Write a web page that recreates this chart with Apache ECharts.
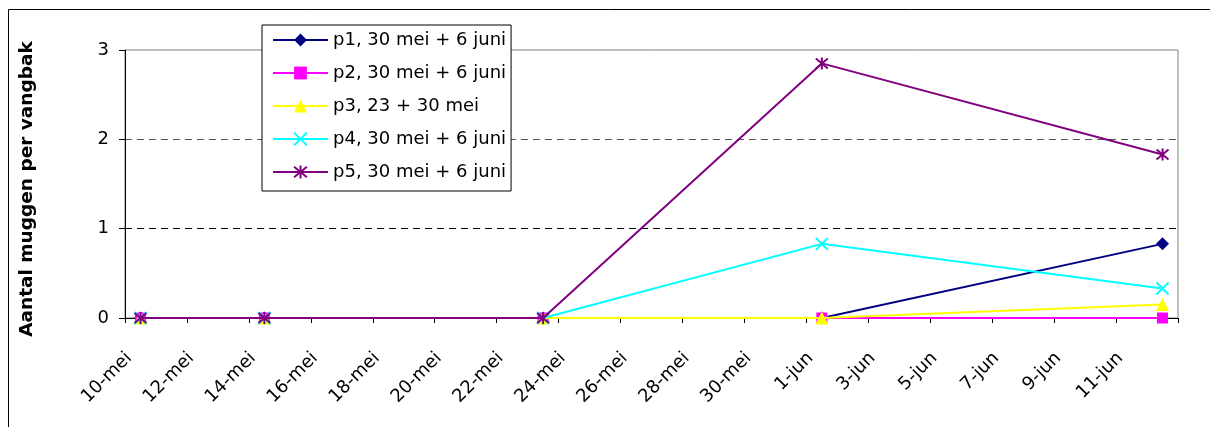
<!DOCTYPE html>
<html>
<head>
<meta charset="utf-8">
<script src="https://cdn.jsdelivr.net/npm/echarts@6/dist/echarts.min.js"></script>
<style>
html,body{margin:0;padding:0;background:#fff;}
#chart{width:1210px;height:427px;}
</style>
</head>
<body>
<div id="chart"></div>
<script>
// Category days on the x axis (one band per day)
const categories = [
  '10-mei','11-mei','12-mei','13-mei','14-mei','15-mei','16-mei','17-mei','18-mei','19-mei',
  '20-mei','21-mei','22-mei','23-mei','24-mei','25-mei','26-mei','27-mei','28-mei','29-mei',
  '30-mei','31-mei','1-jun','2-jun','3-jun','4-jun','5-jun','6-jun','7-jun','8-jun',
  '9-jun','10-jun','11-jun','12-jun'
];
// Sampling dates
const sampleDates = ['10-mei','14-mei','23-mei','1-jun','12-jun'];
// Series values (Aantal muggen per vangbak)
const p1 = [0, 0, 0, 0, 0.83];
const p2 = [0, 0, 0, 0, 0];
const p3 = [0, 0, 0, 0, 0.15];
const p4 = [0, 0, 0, 0.83, 0.33];
const p5 = [0, 0, 0, 2.85, 1.83];
const seriesNames = [
  'p1, 30 mei + 6 juni',
  'p2, 30 mei + 6 juni',
  'p3, 23 + 30 mei',
  'p4, 30 mei + 6 juni',
  'p5, 30 mei + 6 juni'
];
const yTicks = [0, 1, 2, 3];

const FONT = 'DejaVu Sans';
const pair = vals => sampleDates.map((d, i) => [d, vals[i]]);

const crossPath = 'path://M0,0L10,10M10,0L0,10';
const starPath = 'path://M0,0L10,10M10,0L0,10M5,-1L5,11';

const styles = [
  {color: '#000080', symbol: 'diamond', size: 13},
  {color: '#FF00FF', symbol: 'rect', size: 11},
  {color: '#FFFF00', symbol: 'triangle', size: 13},
  {color: '#00FFFF', symbol: crossPath, size: 12, stroke: true},
  {color: '#800080', symbol: starPath, size: 12, stroke: true}
];
const values = [p1, p2, p3, p4, p5];

const chart = echarts.init(document.getElementById('chart'), null, {renderer: 'canvas'});
chart.setOption({
  animation: false,
  backgroundColor: '#fff',
  textStyle: {fontFamily: FONT},
  graphic: [{
    type: 'rect',
    shape: {x: 8.5, y: 9.5, width: 1500, height: 700},
    style: {fill: 'none', stroke: '#000', lineWidth: 1},
    silent: true, z: -10
  }],
  grid: {
    left: 125, right: 32, top: 50, bottom: 109,
    show: true, borderColor: '#808080', borderWidth: 1, backgroundColor: 'transparent'
  },
  legend: {
    orient: 'vertical',
    left: 262, top: 25,
    padding: [6, 5, 10, 10],
    itemGap: 15,
    itemWidth: 55,
    itemHeight: 16,
    borderColor: '#000',
    borderWidth: 1,
    backgroundColor: '#fff',
    textStyle: {fontFamily: FONT, fontSize: 18, color: '#000', lineHeight: 18},
    data: seriesNames
  },
  xAxis: {
    type: 'category',
    data: categories,
    boundaryGap: true,
    axisLine: {lineStyle: {color: '#000', width: 1}},
    axisTick: {show: true, interval: 1, length: 5, lineStyle: {color: '#000'}},
    axisLabel: {
      interval: 1, rotate: 45, margin: 26,
      fontFamily: FONT, fontSize: 18, color: '#000',
      padding: [0, 16, 0, 0]
    },
    splitLine: {show: false}
  },
  yAxis: {
    type: 'value',
    min: yTicks[0], max: yTicks[yTicks.length - 1], interval: 1,
    name: 'Aantal muggen per vangbak',
    nameLocation: 'middle',
    nameGap: 88,
    nameTextStyle: {fontFamily: FONT, fontSize: 18.5, fontWeight: 'bold', color: '#000', padding: [0, 10, 0, 0]},
    axisLine: {show: true, lineStyle: {color: '#000', width: 1}},
    axisTick: {show: true, length: 6, lineStyle: {color: '#000'}},
    axisLabel: {margin: 16, fontFamily: FONT, fontSize: 18, color: '#000'},
    splitLine: {
      show: true,
      lineStyle: {
        color: ['rgba(0,0,0,0)', '#000', '#555', 'rgba(0,0,0,0)'],
        type: [7, 5], width: 1
      }
    }
  },
  series: values.map((vals, i) => ({
    name: seriesNames[i],
    type: 'line',
    data: pair(vals),
    symbol: styles[i].symbol,
    symbolSize: styles[i].size,
    showAllSymbol: true,
    lineStyle: {color: styles[i].color, width: 2},
    itemStyle: styles[i].stroke
      ? {color: styles[i].color, borderColor: styles[i].color, borderWidth: 2}
      : {color: styles[i].color, borderWidth: 0},
    emphasis: {disabled: true},
    z: 2 + i
  }))
});
</script>
</body>
</html>
